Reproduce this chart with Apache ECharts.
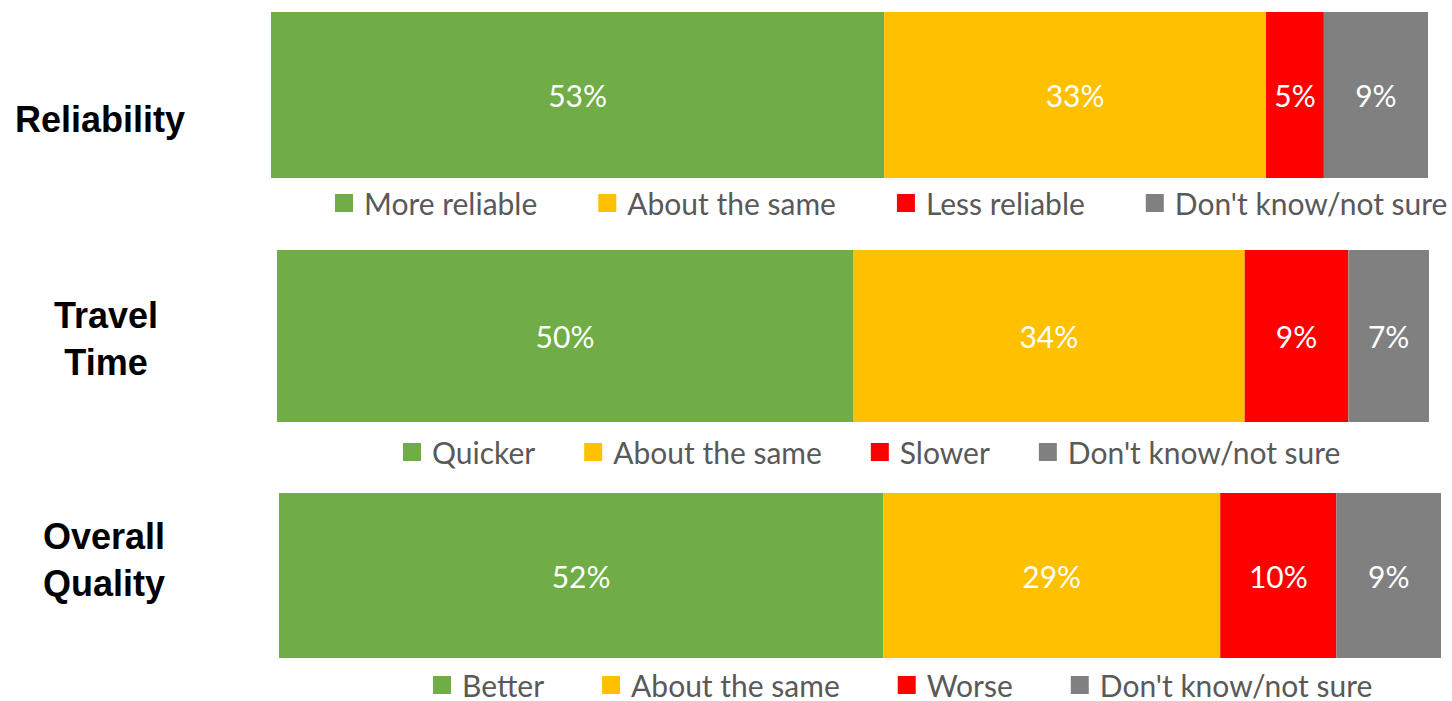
<!DOCTYPE html>
<html><head><meta charset="utf-8">
<script src="https://cdn.jsdelivr.net/npm/echarts@6/dist/echarts.min.js"></script>
<style>html,body{margin:0;padding:0;background:#fff}#c{width:1452px;height:701px}</style>
</head><body><div id="c"></div>
<script>
// ---- data ----
const groups = ['Reliability', 'Travel\nTime', 'Overall\nQuality'];
const reliabilityNames = ['More reliable', 'About the same', 'Less reliable', "Don't know/not sure"];
const reliabilityValues = [53, 33, 5, 9];
const travelNames = ['Quicker', 'About the same', 'Slower', "Don't know/not sure"];
const travelValues = [50, 34, 9, 7];
const qualityNames = ['Better', 'About the same', 'Worse', "Don't know/not sure"];
const qualityValues = [52, 29, 10, 9];
const colors = ['#70AD47', '#FFC000', '#FF0000', '#808080'];

// ---- layout ----
const blocks = [
  { names: reliabilityNames, values: reliabilityValues, grid: { left: 271, right: 24, top: 12, height: 166 }, titleX: 100, titleY: 119, legendLeft: 335, legendTop: 188, gap: 61 },
  { names: travelNames, values: travelValues, grid: { left: 277, right: 23, top: 250, height: 172 }, titleX: 106, titleY: 339, legendLeft: 403, legendTop: 437, gap: 49 },
  { names: qualityNames, values: qualityValues, grid: { left: 279, right: 11, top: 493, height: 165 }, titleX: 104, titleY: 560, legendLeft: 433, legendTop: 670, gap: 58 }
];

const FONT = 'Lato, "Open Sans", sans-serif';
const grid = [], xAxis = [], yAxis = [], legend = [], series = [], graphic = [];
blocks.forEach((b, gi) => {
  grid.push(Object.assign({ containLabel: false }, b.grid));
  xAxis.push({ type: 'value', gridIndex: gi, min: 0, max: 100, show: false });
  yAxis.push({
    type: 'category', gridIndex: gi, data: [groups[gi]],
    axisLine: { show: false }, axisTick: { show: false }, splitLine: { show: false },
    axisLabel: { show: false }
  });
  graphic.push({
    type: 'text', x: b.titleX, y: b.titleY, silent: true,
    style: {
      text: groups[gi], fill: '#000',
      font: 'bold 36px "Liberation Sans", Arial, sans-serif',
      lineHeight: 47,
      textAlign: 'center', textVerticalAlign: 'middle',
      align: 'center', verticalAlign: 'middle'
    }
  });
  legend.push({
    data: b.names, left: b.legendLeft, top: b.legendTop, width: 1400, orient: 'horizontal',
    padding: 0, itemWidth: 18, itemHeight: 18, itemGap: b.gap, icon: 'rect',
    selectedMode: false,
    textStyle: { color: '#595959', fontFamily: FONT, fontSize: 30, padding: [0, 0, 0, 6] }
  });
  b.names.forEach((n, si) => {
    series.push({
      type: 'bar', name: n, stack: 'g' + gi, xAxisIndex: gi, yAxisIndex: gi,
      barWidth: '100%', data: [b.values[si]],
      itemStyle: { color: colors[si] },
      label: { show: true, position: 'inside', color: '#fff', fontFamily: FONT, fontSize: 30, formatter: '{c}%' },
      emphasis: { disabled: true }
    });
  });
});

const chart = echarts.init(document.getElementById('c'), null, { renderer: 'svg' });
chart.setOption({ animation: false, backgroundColor: '#fff', grid, xAxis, yAxis, legend, series, graphic });
</script>
</body></html>
